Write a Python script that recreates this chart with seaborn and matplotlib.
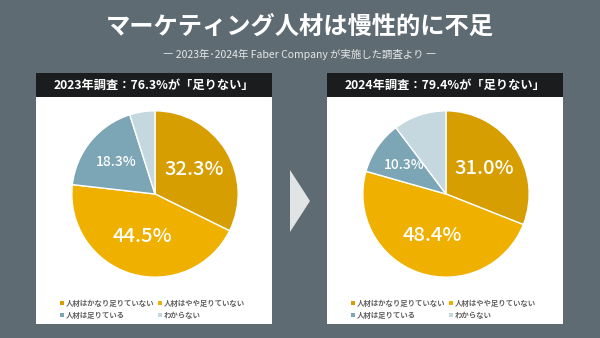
import matplotlib
matplotlib.use("Agg")
import matplotlib.pyplot as plt
import seaborn as sns
import numpy as np
from matplotlib.patches import Rectangle, Polygon

sns.set_theme(style="white")
plt.rcParams['font.family'] = ['Noto Sans CJK JP', 'DejaVu Sans']

# ---- data ----
categories = ["人材はかなり足りていない", "人材はやや足りていない", "人材は足りている", "わからない"]
values_2023 = [32.3, 44.5, 18.3, 4.9]
values_2024 = [31.0, 48.4, 10.3, 10.3]
panel_titles = ["2023年調査：76.3%が「足りない」", "2024年調査：79.4%が「足りない」"]
colors = ["#d69e00", "#f0b000", "#7ca5b5", "#c5d8e0"]
title = "マーケティング人材は慢性的に不足"
subtitle = "― 2023年･2024年 Faber Company が実施した調査より ―"

W, H = 600, 338
BG = "#5f6b72"
fig = plt.figure(figsize=(W / 100, H / 100), dpi=100, facecolor=BG)

def fx(x):
    return x / W

def fy(y):
    return 1 - y / H

fig.text(0.5, fy(27), title, ha="center", va="center", color="white",
         fontsize=17.5, fontweight="bold")
fig.text(0.5, fy(54), subtitle, ha="center", va="center", color="#e4e8ea",
         fontsize=7.5)

# arrow
fig.patches.append(Polygon([(fx(290), fy(170)), (fx(310), fy(201)), (fx(290), fy(232))],
                           closed=True, transform=fig.transFigure,
                           facecolor="#e1e4e5", edgecolor="none"))

panels = [(36, values_2023, panel_titles[0]), (327, values_2024, panel_titles[1])]
for x0, vals, ptitle in panels:
    pw = 236
    top, bottom, hb = 73, 324, 97
    fig.patches.append(Rectangle((fx(x0), fy(bottom)), pw / W, (bottom - top) / H,
                                 transform=fig.transFigure, facecolor="white",
                                 edgecolor="none", zorder=-2))
    fig.patches.append(Rectangle((fx(x0), fy(hb)), pw / W, (hb - top) / H,
                                 transform=fig.transFigure, facecolor="#1b1c1d",
                                 edgecolor="none", zorder=-1))
    fig.text(fx(x0 + pw / 2), fy((top + hb) / 2), ptitle, ha="center", va="center",
             color="white", fontsize=8.8, fontweight="bold")

    cx, cy, r = x0 + 119, 194, 84
    ax = fig.add_axes([fx(cx - r), fy(cy + r), 2 * r / W, 2 * r / H])
    ax.set_zorder(5)
    ax.patch.set_alpha(0)
    wedges, _ = ax.pie(vals, colors=colors, startangle=90, counterclock=False,
                       wedgeprops=dict(edgecolor="white", linewidth=1.0))
    ax.set_xlim(-1.01, 1.01)
    ax.set_ylim(-1.01, 1.01)
    ax.set_aspect("equal")
    ax.axis("off")
    # labels
    sizes = [14.5, 14.5, 10, None]
    dists = [0.55, 0.53, 0.61, None]
    total = sum(vals)
    start = 90.0
    for v, s, d in zip(vals, sizes, dists):
        ang = start - 360 * v / total / 2
        start -= 360 * v / total
        if s is None:
            continue
        a = np.deg2rad(ang)
        ax.text(d * np.cos(a), d * np.sin(a), f"{v:.1f}%", ha="center", va="center",
                color="white", fontsize=s, fontweight="medium")

    # legend
    lx = [x0 + 24, x0 + 122]
    ly = [303, 315]
    for i, cat in enumerate(categories):
        px = lx[i % 2]
        py = ly[i // 2]
        fig.patches.append(Rectangle((fx(px), fy(py + 2)), 4 / W, 4 / H,
                                     transform=fig.transFigure, facecolor=colors[i],
                                     edgecolor="none", zorder=1))
        fig.text(fx(px + 6), fy(py), cat, ha="left", va="center", color="#606060",
                 fontsize=5.35, fontweight="bold")

fig.savefig("out.png", dpi=100, facecolor=BG)
